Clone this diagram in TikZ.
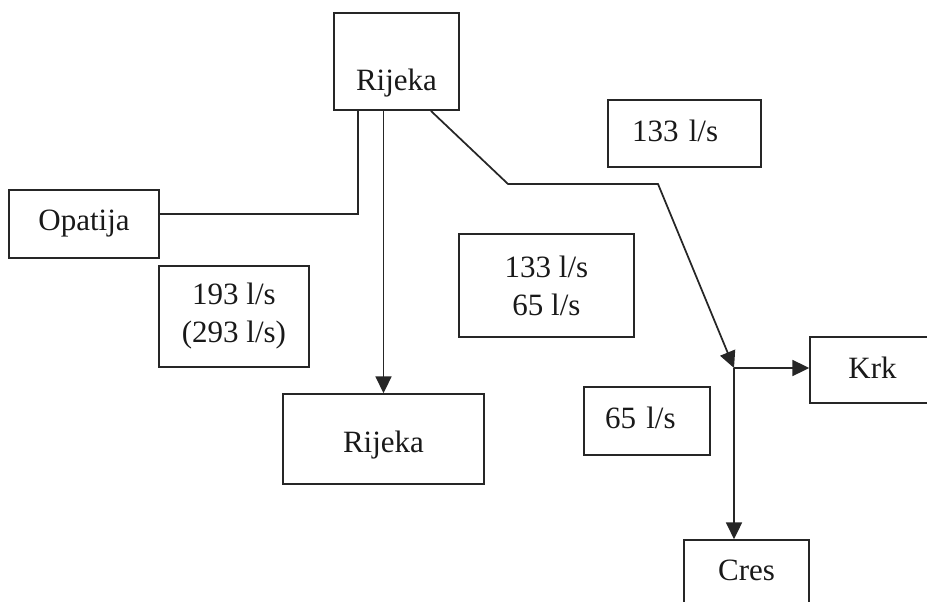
\documentclass[tikz,border=0pt]{standalone}
\usepackage{fontspec}
\setmainfont{Liberation Serif}
\usetikzlibrary{arrows.meta, calc}

\begin{document}
\begin{tikzpicture}[
    x=0.75pt, y=-0.75pt,
    place/.style={rectangle, draw=black!85, line width=1.3pt, inner sep=0pt,
                  align=center, font=\fontsize{23.25}{28.5}\selectfont, text=black!90},
    flow/.style={line width=1.3pt, draw=black!85},
    arr/.style={flow, -{Triangle[length=12.5pt, width=12pt]}}
]
\clip (0,0) rectangle (927,602);

\node[place, minimum width=93.75pt, minimum height=72.75pt,
      text height=44.25pt, text depth=0pt] (rijekaTop) at (396.5,61.5) {Rijeka};
\node[place, minimum width=112.5pt, minimum height=51pt] (opatija) at (84,224) {Opatija};
\node[place, minimum width=112.5pt, minimum height=75.75pt] (flowOpatija) at (234,316.5) {193 l/s\\(293 l/s)};
\node[place, minimum width=150.75pt, minimum height=67.5pt,
      text height=19.5pt, text depth=0pt] (rijekaBot) at (383.5,439) {Rijeka};
\node[place, minimum width=131.25pt, minimum height=77.25pt] (flowMid) at (546.5,285.5) {133 l/s\\65 l/s};
\node[place, minimum width=114.75pt, minimum height=50.25pt, text width=78.75pt, align=left,
      text height=12.75pt, text depth=0pt] (flowKrk) at (684.5,133.5) {133 l/s};
\node[place, minimum width=94.5pt, minimum height=51pt, text width=63pt, align=left,
      text height=10.5pt, text depth=0pt] (flowCres) at (647,421) {65 l/s};
\node[place, minimum width=93.75pt, minimum height=49.5pt,
      text height=12pt, text depth=0pt] (krk) at (872.5,370) {Krk};
\node[place, minimum width=93.75pt, minimum height=51pt,
      text height=9pt, text depth=0pt] (cres) at (746.5,574) {Cres};

% route to the islands
\coordinate (bendA) at (508,184);
\coordinate (bendB) at (658,184);
\coordinate (split) at (734,368);

\draw[flow] ($(opatija.east)+(0,-10)$) -| ($(rijekaTop.south)+(-38.5,0)$);
\draw[arr] (rijekaTop.south -| rijekaBot.north) -- (rijekaBot.north);
\draw[arr] ($(rijekaTop.south east)+(-29,0)$) -- (bendA) -- (bendB) -- (split);
\draw[arr] (split) -- (split -| krk.west);
\draw[arr] (split) -- (split |- cres.north);
\end{tikzpicture}
\end{document}
